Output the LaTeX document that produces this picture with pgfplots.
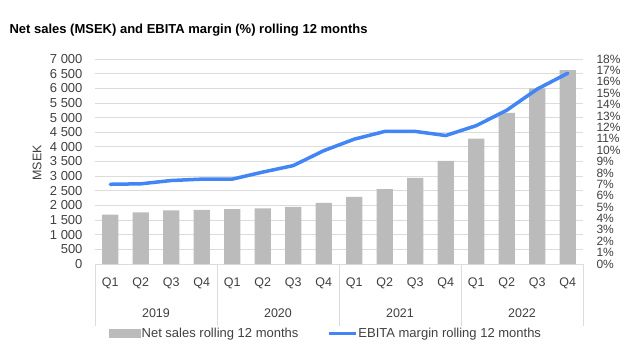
\documentclass[border=0pt]{standalone}
\usepackage{fontspec}
\setmainfont{Liberation Sans}
\usepackage{pgfplots}
\pgfplotsset{compat=1.18}
\definecolor{barGray}{RGB}{187,187,187}
\definecolor{lineBlue}{RGB}{66,133,244}
\definecolor{gridGray}{RGB}{220,220,220}
\definecolor{txt}{RGB}{64,64,64}
\begin{document}
\begin{tikzpicture}
\path[use as bounding box] (0,0) rectangle (629pt,356pt);
\node[anchor=west, font=\fontsize{13}{16}\selectfont\bfseries] at (6pt,326pt) {Net sales (MSEK) and EBITA margin (\%) rolling 12 months};
\node[rotate=90, text=txt, font=\fontsize{12.5}{14}\selectfont] at (37pt,193pt) {MSEK};
\begin{axis}[
  at={(95pt,92pt)}, anchor=south west, scale only axis,
  width=488pt, height=205pt,
  xmin=-0.5, xmax=15.5, ymin=0, ymax=7000,
  ytick={0,500,...,7000},
  xtick={0,...,15},
  xticklabels={Q1,Q2,Q3,Q4,Q1,Q2,Q3,Q4,Q1,Q2,Q3,Q4,Q1,Q2,Q3,Q4},
  axis x line*=bottom, axis y line*=left,
  x axis line style={draw=gridGray, line width=0.8pt, -},
  y axis line style={draw=none},
  major tick length=0pt,
  ymajorgrids, grid style={gridGray, line width=0.8pt},
  /pgf/number format/assume math mode=true,
  /pgf/number format/1000 sep={\ },
  ticklabel style={text=txt, font=\fontsize{12.5}{14}\selectfont},
  yticklabel style={xshift=-9pt, font=\fontsize{13}{14}\selectfont},
  xticklabel style={yshift=-10pt},
  clip=false,
  legend style={at={(0.472,-0.337)}, anchor=center, draw=none, fill=none,
    legend columns=2, text=txt, font=\fontsize{13}{15}\selectfont,
    /tikz/every even column/.append style={column sep=28pt},
    inner sep=0pt, nodes={inner sep=1pt}},
]
\addplot[ybar, bar width=16.3pt, fill=barGray, draw=none,
  legend image code/.code={\fill[barGray] (0pt,-4.5pt) rectangle (32pt,4.5pt);}]
  coordinates {(0,1690) (1,1760) (2,1830) (3,1850) (4,1870) (5,1900) (6,1950) (7,2090)
   (8,2290) (9,2560) (10,2940) (11,3520) (12,4280) (13,5160) (14,6000) (15,6620)};
\addlegendentry{Net sales rolling 12 months}
\addlegendimage{legend image code/.code={\draw[lineBlue, line width=3pt] (0pt,0pt) -- (27pt,0pt);}}
\addlegendentry{EBITA margin rolling 12 months}
\draw[gridGray, line width=0.8pt] (axis cs:-0.5,0) -- ++(0pt,-62pt);
\draw[gridGray, line width=0.8pt] (axis cs:3.5,0) -- ++(0pt,-62pt);
\draw[gridGray, line width=0.8pt] (axis cs:7.5,0) -- ++(0pt,-62pt);
\draw[gridGray, line width=0.8pt] (axis cs:11.5,0) -- ++(0pt,-62pt);
\draw[gridGray, line width=0.8pt] (axis cs:15.5,0) -- ++(0pt,-62pt);
\node[text=txt, font=\fontsize{12.5}{14}\selectfont, yshift=-49pt] at (axis cs:1.5,0) {2019};
\node[text=txt, font=\fontsize{12.5}{14}\selectfont, yshift=-49pt] at (axis cs:5.5,0) {2020};
\node[text=txt, font=\fontsize{12.5}{14}\selectfont, yshift=-49pt] at (axis cs:9.5,0) {2021};
\node[text=txt, font=\fontsize{12.5}{14}\selectfont, yshift=-49pt] at (axis cs:13.5,0) {2022};
\end{axis}
\begin{axis}[
  at={(95pt,92pt)}, anchor=south west, scale only axis,
  width=488pt, height=205pt,
  xmin=-0.5, xmax=15.5, ymin=0, ymax=18,
  axis x line=none, axis y line*=right,
  y axis line style={draw=none},
  major tick length=0pt,
  ytick={0,1,...,18},
  yticklabel={\pgfmathprintnumber{\tick}\%},
  /pgf/number format/assume math mode=true,
  yticklabel style={text=txt, font=\fontsize{12}{12}\selectfont, xshift=10pt},
  clip=false,
]
\addplot[lineBlue, line width=3.5pt, line join=round, line cap=round]
  coordinates {(0,7.00) (1,7.04) (2,7.33) (3,7.45) (4,7.45) (5,8.07) (6,8.64) (7,9.95)
   (8,10.96) (9,11.64) (10,11.64) (11,11.28) (12,12.15) (13,13.5) (14,15.36) (15,16.75)};
\end{axis}
\end{tikzpicture}
\end{document}
